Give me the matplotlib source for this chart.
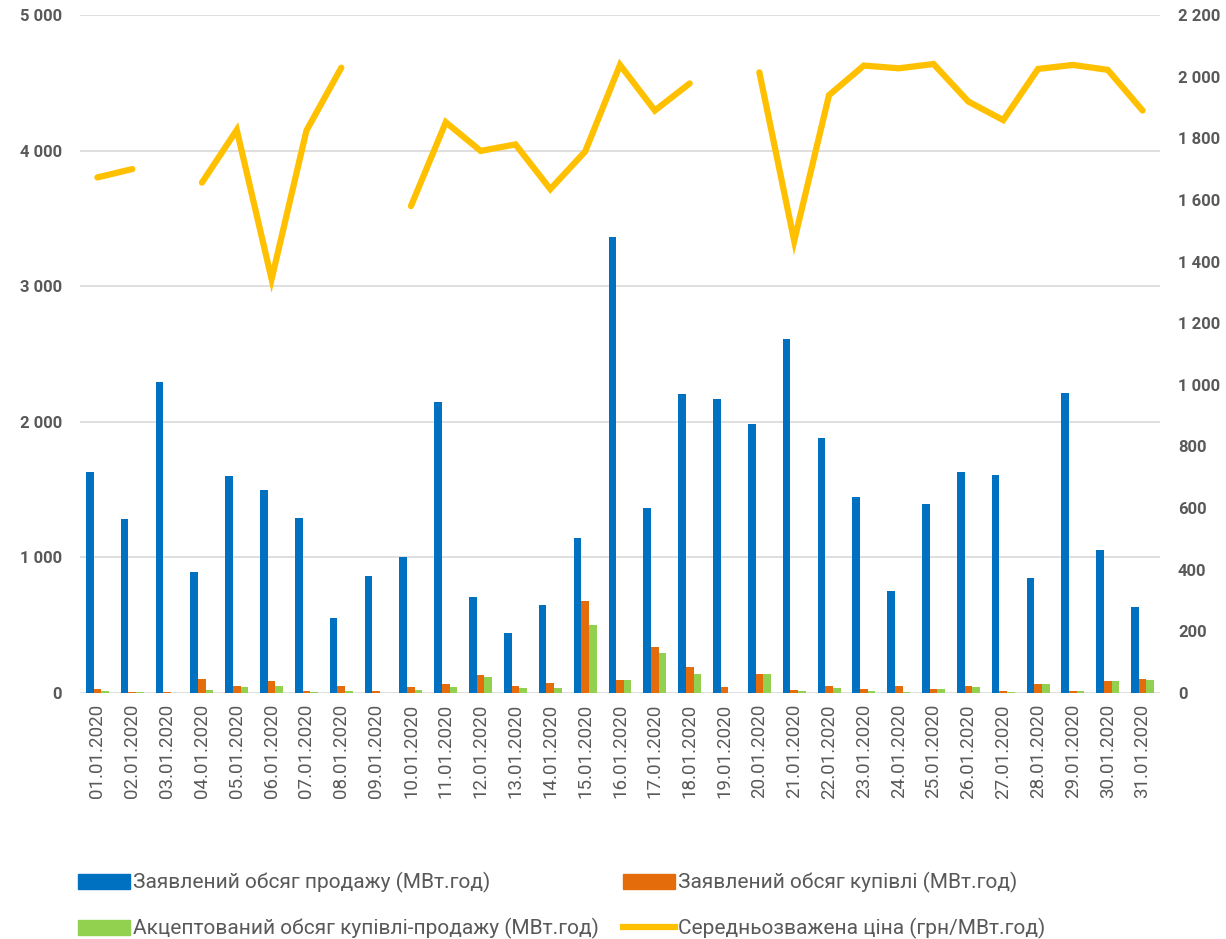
import matplotlib.pyplot as plt
import numpy as np
from matplotlib.patches import Patch
from matplotlib.lines import Line2D
from matplotlib.ticker import FuncFormatter, MultipleLocator

plt.rcParams['font.family'] = ['Roboto', 'DejaVu Sans']

dates = [f'{d:02d}.01.2020' for d in range(1, 32)]

# заявлений обсяг продажу, МВт.год
sell = [1630, 1285, 2295, 890, 1600, 1495, 1290, 550, 860, 1000,
        2145, 710, 445, 650, 1145, 3360, 1365, 2205, 2165, 1985,
        2610, 1880, 1445, 750, 1395, 1630, 1605, 845, 2215, 1055, 635]
# заявлений обсяг купівлі, МВт.год
buy = [32, 7, 7, 106, 52, 91, 15, 54, 12, 47,
       64, 130, 49, 71, 681, 98, 337, 189, 47, 140,
       20, 53, 32, 49, 32, 49, 12, 69, 12, 91, 103]
# акцептований обсяг, МВт.год
accepted = [12, 7, 0, 25, 42, 52, 5, 12, 0, 25,
            47, 116, 34, 39, 500, 98, 298, 138, 0, 140,
            12, 38, 12, 5, 27, 44, 10, 66, 12, 89, 98]
# середньозважена ціна, грн/МВт.год (nan = немає даних)
price = [1673, 1700, np.nan, 1656, 1827, 1343, 1825, 2029, np.nan, 1580,
         1852, 1759, 1780, 1635, 1757, 2038, 1890, 1978, np.nan, 2014,
         1467, 1940, 2036, 2027, 2041, 1919, 1859, 2025, 2038, 2022, 1890]

c_blue = '#0070C0'
c_orange = '#E46C0A'
c_green = '#92D050'
c_yellow = '#FFC000'
c_text = '#595959'

fig = plt.figure(figsize=(12.26, 9.39), dpi=100)
ax = fig.add_axes([80/1226, 1 - 693/939, 1080/1226, 678/939])
ax2 = ax.twinx()

x = np.arange(len(dates))
w = 0.22
ax.bar(x - w, sell, w, color=c_blue, zorder=3)
ax.bar(x, buy, w, color=c_orange, zorder=3)
ax.bar(x + w, accepted, w, color=c_green, zorder=3)
ax2.plot(x, price, color=c_yellow, lw=4.5, solid_capstyle='round',
         solid_joinstyle='miter', zorder=4)

fmt = FuncFormatter(lambda v, p: f'{int(v):,}'.replace(',', ' '))

ax.set_xlim(-0.5, len(dates) - 0.5)
ax.set_ylim(0, 5000)
ax.yaxis.set_major_locator(MultipleLocator(1000))
ax.yaxis.set_major_formatter(fmt)
ax2.set_ylim(0, 2200)
ax2.yaxis.set_major_locator(MultipleLocator(200))
ax2.yaxis.set_major_formatter(fmt)

ax.set_xticks(x)
ax.set_xticklabels(dates, rotation=90, fontsize=13.5, color=c_text)
ax.grid(axis='y', color='#D9D9D9', lw=1.2, zorder=0)
ax.set_axisbelow(True)

for a in (ax, ax2):
    for s in a.spines.values():
        s.set_visible(False)
    a.tick_params(length=0)
ax.tick_params(axis='y', labelsize=12, labelcolor=c_text, pad=13)
ax2.tick_params(axis='y', labelsize=12, labelcolor=c_text, pad=13)
ax.tick_params(axis='x', pad=8)
for lab in ax.get_yticklabels() + ax2.get_yticklabels():
    lab.set_fontweight('bold')

handles = [
    Patch(color=c_blue, label='Заявлений обсяг продажу (МВт.год)'),
    Patch(color=c_green, label='Акцептований обсяг купівлі-продажу (МВт.год)'),
    Patch(color=c_orange, label='Заявлений обсяг купівлі (МВт.год)'),
    Line2D([], [], color=c_yellow, lw=4.5, label='Середньозважена ціна (грн/МВт.год)'),
]
leg = fig.legend(handles=handles, ncol=2, loc='upper left',
                 bbox_to_anchor=(78/1226, 1 - 872/939), frameon=False,
                 fontsize=15, handlelength=2.5, handleheight=0.75,
                 handletextpad=0.15, columnspacing=1.15, labelspacing=1.2,
                 borderpad=0, borderaxespad=0)
for t in leg.get_texts():
    t.set_color(c_text)

fig.savefig('out.png', dpi=100)
